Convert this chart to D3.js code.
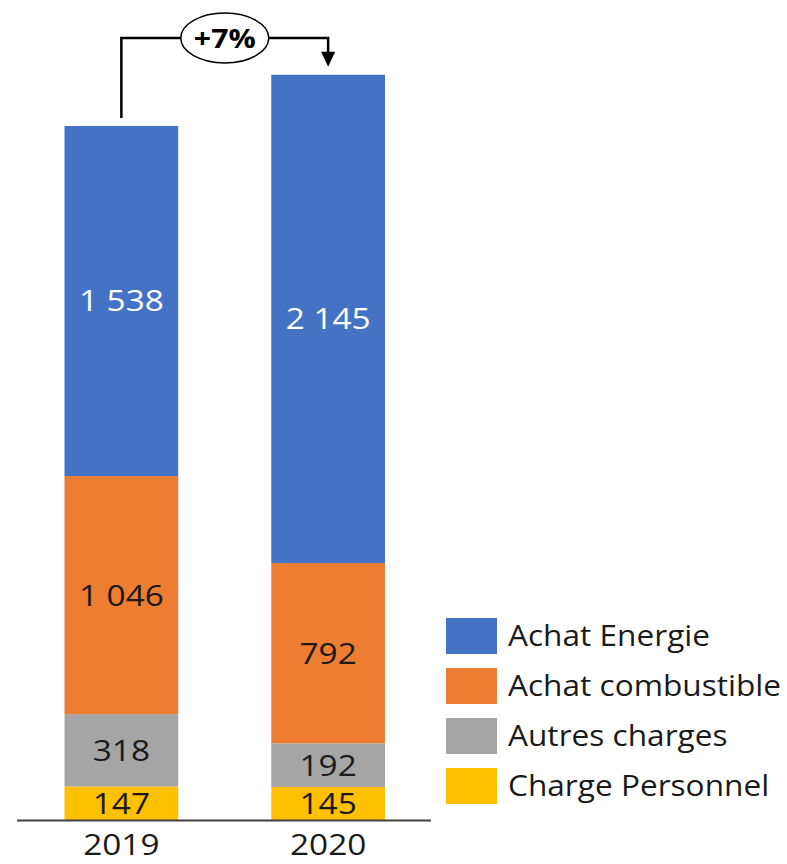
<!DOCTYPE html>
<html>
<head>
<meta charset="utf-8">
<script src="https://cdn.jsdelivr.net/npm/d3@7"></script>
<style>
  html, body { margin: 0; padding: 0; background: #fff; }
  svg { display: block; }
  text { font-family: "Open Sans", "Noto Sans", sans-serif; }
</style>
</head>
<body>
<svg id="chart" width="787" height="864"></svg>
<script>
// Cost breakdown per year (stacked bottom to top)
const years = ["2019", "2020"];
const seriesNames = ["Charge Personnel", "Autres charges", "Achat combustible", "Achat Energie"];
const chargePersonnel = [147, 145];
const autresCharges = [318, 192];
const achatCombustible = [1046, 792];
const achatEnergie = [1538, 2145];
const colors = ["#FFC000", "#A5A5A5", "#ED7D31", "#4472C4"];
const labelColors = ["#1a1a1a", "#1a1a1a", "#1a1a1a", "#ffffff"];
const legendOrder = ["Achat Energie", "Achat combustible", "Autres charges", "Charge Personnel"];

const rows = years.map((y, i) => ({
  year: y,
  "Charge Personnel": chargePersonnel[i],
  "Autres charges": autresCharges[i],
  "Achat combustible": achatCombustible[i],
  "Achat Energie": achatEnergie[i]
}));

const svg = d3.select("#chart");
const baseY = 820;
const stretch = 1.15; // horizontal widening of text glyphs

const x = d3.scaleBand().domain(years).range([64.5, 385]).paddingInner(0.45).paddingOuter(0);
const y = d3.scaleLinear().domain([0, 3049]).range([baseY, 126]);

const stack = d3.stack().keys(seriesNames)(rows);
const fmt = v => d3.format(",")(v).replace(/,/g, "\u00a0");

const layers = svg.append("g").selectAll("g").data(stack).join("g")
  .attr("fill", (d, i) => colors[i]);

layers.selectAll("rect").data(d => d).join("rect")
  .attr("x", d => x(d.data.year))
  .attr("width", x.bandwidth())
  .attr("y", d => y(d[1]))
  .attr("height", d => y(d[0]) - y(d[1]));

// value labels in each segment
stack.forEach((layer, li) => {
  layer.forEach(d => {
    const cx = x(d.data.year) + x.bandwidth() / 2;
    const cy = (y(d[0]) + y(d[1])) / 2;
    svg.append("text")
      .attr("transform", `translate(${cx},${cy}) scale(${stretch},1)`)
      .attr("text-anchor", "middle")
      .attr("dy", "0.36em")
      .attr("font-size", 29)
      .attr("fill", labelColors[li])
      .text(fmt(d[1] - d[0]));
  });
});

// baseline
svg.append("line")
  .attr("x1", 17).attr("x2", 431)
  .attr("y1", baseY + 0.5).attr("y2", baseY + 0.5)
  .attr("stroke", "#404040").attr("stroke-width", 2);

// year axis labels
const xAxis = svg.append("g").attr("transform", `translate(0,${baseY})`)
  .call(d3.axisBottom(x).tickSize(0).tickPadding(0));
xAxis.select(".domain").remove();
xAxis.selectAll("text")
  .attr("font-size", 29)
  .attr("fill", "#1a1a1a")
  .attr("font-family", "Open Sans, Noto Sans, sans-serif")
  .attr("y", 0).attr("dy", "0.36em")
  .attr("transform", `translate(0,25) scale(${stretch},1)`);

// growth annotation
const totals = rows.map(r => seriesNames.reduce((s, k) => s + r[k], 0));
const growth = totals[1] / totals[0] - 1;
const x0 = x(years[0]) + x.bandwidth() / 2;
const x1 = x(years[1]) + x.bandwidth() / 2;
const topY = 38;
svg.append("path")
  .attr("d", `M${x0},${y(totals[0]) - 8}V${topY}H${x1}V${y(totals[1]) - 22}`)
  .attr("fill", "none").attr("stroke", "#000").attr("stroke-width", 2.5);
svg.append("path")
  .attr("d", `M${x1 - 7},${y(totals[1]) - 23}L${x1 + 7},${y(totals[1]) - 23}L${x1},${y(totals[1]) - 8}Z`)
  .attr("fill", "#000");
const ex = (x0 + x1) / 2;
svg.append("ellipse")
  .attr("cx", ex).attr("cy", topY)
  .attr("rx", 44).attr("ry", 25)
  .attr("fill", "#fff").attr("stroke", "#000").attr("stroke-width", 1.5);
svg.append("text")
  .attr("transform", `translate(${ex},${topY}) scale(1.12,1)`)
  .attr("text-anchor", "middle").attr("dy", "0.36em")
  .attr("font-size", 27).attr("font-weight", "bold")
  .attr("fill", "#000")
  .text("+" + d3.format(".0%")(growth));

// legend
const legend = svg.append("g").attr("transform", "translate(446,618)");
legendOrder.forEach((name, i) => {
  const g = legend.append("g").attr("transform", `translate(0,${i * 50})`);
  g.append("rect").attr("width", 51).attr("height", 36)
    .attr("fill", colors[seriesNames.indexOf(name)]);
  g.append("text")
    .attr("transform", `translate(62,18) scale(1.09,1)`)
    .attr("dy", "0.36em")
    .attr("font-size", 29)
    .attr("fill", "#1a1a1a")
    .text(name);
});
</script>
</body>
</html>
